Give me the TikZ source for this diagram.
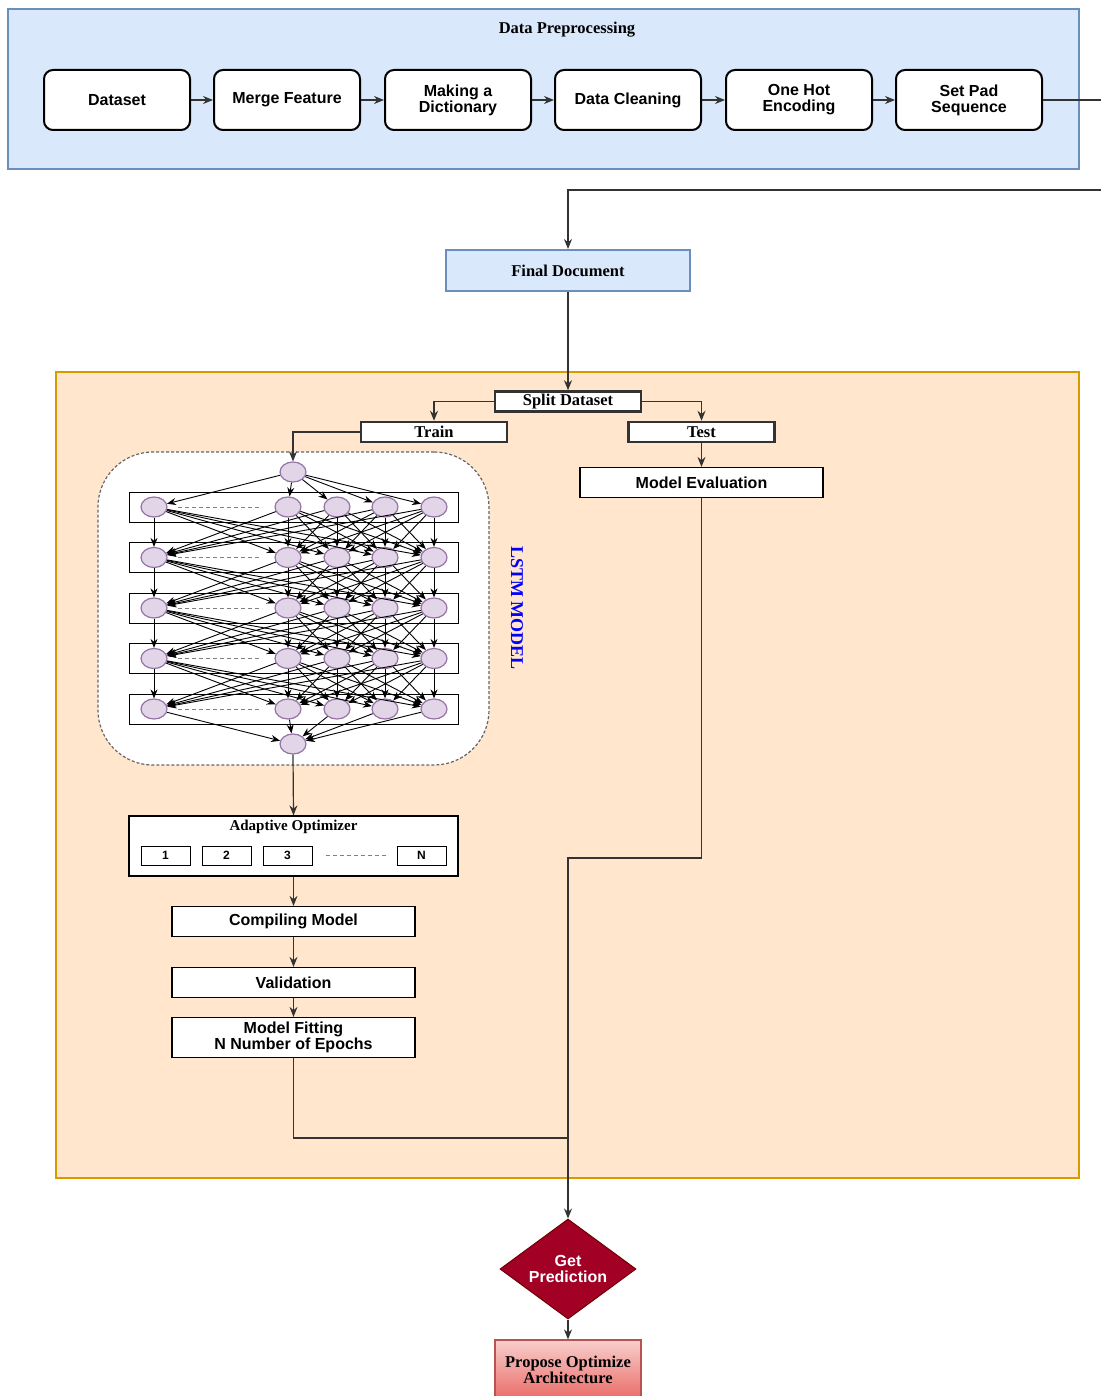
\documentclass[tikz,border=0pt]{standalone}
\usepackage{fontspec}
\setmainfont{Liberation Serif}
\newfontfamily\arialf{Liberation Sans}
\usetikzlibrary{shapes.geometric,arrows.meta}

\definecolor{bluefill}{HTML}{DAE8FC}
\definecolor{blueline}{HTML}{6C8EBF}
\definecolor{orangefill}{HTML}{FFE6CC}
\definecolor{orangeline}{HTML}{D79B00}
\definecolor{purplefill}{HTML}{E1D5E7}
\definecolor{purpleline}{HTML}{9673A6}
\definecolor{redfill}{HTML}{A20025}
\definecolor{redline}{HTML}{6F0000}
\definecolor{pinktop}{HTML}{F8CECC}
\definecolor{pinkbot}{HTML}{EA6B66}
\definecolor{pinkline}{HTML}{B85450}
\definecolor{linecol}{HTML}{333333}

\newcommand\sfbold{\fontsize{16}{16}\selectfont\arialf\bfseries}
\newcommand\rmbold{\fontsize{16.5}{16}\selectfont\rmfamily\bfseries}

\tikzset{
  prepstep/.style={draw=black, line width=2pt, rounded corners=9pt, fill=white,
    minimum width=146pt, minimum height=60pt, inner sep=0pt, align=center, font=\sfbold},
  splitbox/.style={draw=linecol, line width=2.5pt, fill=white, minimum width=146pt,
    minimum height=20pt, inner sep=0pt, font=\rmbold},
  plainbox/.style={draw=black, line width=1.2pt, fill=white, minimum width=243pt,
    minimum height=30pt, inner sep=0pt, align=center, font=\sfbold},
  layerbox/.style={draw=black, line width=1pt, fill=white, minimum width=329pt,
    minimum height=30pt, inner sep=0pt},
  neuron/.style={ellipse, draw=purpleline, line width=1.2pt, fill=purplefill,
    minimum width=26pt, minimum height=20pt, inner sep=0pt},
  optbox/.style={draw=black, line width=1pt, fill=white, minimum width=49pt,
    minimum height=19pt, inner sep=0pt, font=\fontsize{12}{12}\selectfont\arialf\bfseries},
  flow/.style={draw=linecol, line width=1.2pt, -{Stealth[length=10pt,width=8pt]}},
  link/.style={draw=linecol, line width=1.2pt},
  nnarrow/.style={draw=black, line width=0.9pt, -{Stealth[length=9pt,width=7pt]}},
  dots/.style={draw=gray, line width=1pt, dash pattern=on 4pt off 3pt},
}

\begin{document}
\begin{tikzpicture}[x=1pt,y=-1pt]
\useasboundingbox (0,0) rectangle (1100,1396);

% ---------- preprocessing stage ----------
\node[draw=blueline, fill=bluefill, line width=2pt, minimum width=1071pt,
      minimum height=160pt, inner sep=0pt] (prep) at (543.5,89) {};
\node[font=\rmbold] (preptitle) at (567,30) {Data Preprocessing};

\node[prepstep] (ds)    at (117,100) {Dataset};
\node[prepstep] (merge) at (287,100) {Merge Feature};
\node[prepstep] (dict)  at (458,100) {Making a\\Dictionary};
\node[prepstep] (clean) at (628,100) {Data Cleaning};
\node[prepstep] (onehot) at (799,100) {One Hot\\Encoding};
\node[prepstep] (pad)   at (969,100) {Set Pad\\Sequence};

\draw[flow] (ds) -- (merge);
\draw[flow] (merge) -- (dict);
\draw[flow] (dict) -- (clean);
\draw[flow] (clean) -- (onehot);
\draw[flow] (onehot) -- (pad);

% ---------- final document ----------
\node[draw=blueline, fill=bluefill, line width=2pt, minimum width=244pt,
      minimum height=41pt, inner sep=0pt, font=\rmbold] (fd) at (568,270.5) {Final Document};

\coordinate (offright) at (1108,100);
\coordinate (turn) at (568,190);
\draw[flow] (pad.east) -- (offright) |- (turn) -- (fd.north);

% ---------- model stage ----------
\node[draw=orangeline, fill=orangefill, line width=2pt, minimum width=1023pt,
      minimum height=806pt, inner sep=0pt] (model) at (567.5,775) {};

\node[splitbox] (split) at (568,401.5) {Split Dataset};
\node[splitbox] (train) at (434,432) {Train};
\node[splitbox] (test)  at (701.5,432) {Test};
\node[plainbox] (eval)  at (701.5,482.5) {Model Evaluation};

\draw[flow] (fd.south) -- (split.north);
\draw[flow] (split.west) -| (train.north);
\draw[flow] (split.east) -| (test.north);
\draw[flow] (test.south) -- (eval.north);

% LSTM network
\node[draw=gray!80!black, dash pattern=on 3pt off 2pt, line width=1.2pt, fill=white,
      rounded corners=55pt, minimum width=391pt, minimum height=313pt, inner sep=0pt]
      (lstmframe) at (293.5,608.5) {};
\node[rotate=-90, text=blue, font=\fontsize{18}{18}\selectfont\rmfamily\bfseries]
      (lstmlabel) at (517,608) {LSTM MODEL};

\foreach \r/\y in {1/507,2/557.5,3/608,4/658.5,5/709}{
  \node[layerbox] (L\r) at (293.5,\y) {};
  \draw[dots] (178,\y) -- (262,\y);
  \foreach \c/\x in {1/154,2/288,3/337,4/385,5/434}{
    \node[neuron] (n\r\c) at (\x,\y) {};
  }
}
\node[neuron] (nin)  at (293,472) {};
\node[neuron] (nout) at (293,744) {};

\draw[flow] (train.west) -| (nin.north);

\foreach \b in {1,...,5}{
  \draw[nnarrow] (nin) -- (n1\b);
  \draw[nnarrow] (n5\b) -- (nout);
}
\foreach \r/\s in {1/2,2/3,3/4,4/5}{
  \foreach \a in {1,...,5}{
    \foreach \b in {1,...,5}{
      \draw[nnarrow] (n\r\a) -- (n\s\b);
    }
  }
}

% optimizer and training steps
\node[draw=black, line width=1.2pt, fill=white, minimum width=329pt,
      minimum height=60pt, inner sep=0pt] (opt) at (293.5,846) {};
\node[font=\fontsize{15}{15}\selectfont\rmfamily\bfseries] (opttitle) at (293.5,827) {Adaptive Optimizer};
\node[optbox] (o1) at (165.5,855.5) {1};
\node[optbox] (o2) at (226.5,855.5) {2};
\node[optbox] (o3) at (287.5,855.5) {3};
\node[optbox] (oN) at (421.5,855.5) {N};
\draw[dots] (o3.east) ++(13,0) -- ++(61,0);

\node[plainbox] (compile) at (293.5,921.5) {Compiling Model};
\node[plainbox] (valid)   at (293.5,982.5) {Validation};
\node[plainbox, minimum height=40pt] (fit) at (293.5,1037.5) {Model Fitting\\N Number of Epochs};

\draw[flow] (nout.south) -- (opt.north);
\draw[flow] (opt.south) -- (compile.north);
\draw[flow] (compile.south) -- (valid.north);
\draw[flow] (valid.south) -- (fit.north);

% prediction
\node[diamond, aspect=1.36, draw=redline, fill=redfill, line width=1pt,
      minimum width=136pt, minimum height=100pt, inner sep=0pt, align=center,
      text=white, font=\sfbold] (pred) at (568,1269) {Get\\Prediction};
\node[draw=pinkline, line width=1.2pt, top color=pinktop, bottom color=pinkbot,
      minimum width=146pt, minimum height=60pt, inner sep=0pt, align=center,
      font=\rmbold] (propose) at (568,1370) {Propose Optimize\\Architecture};

\coordinate (evalturn) at (701.5,858);
\coordinate (join) at (568,1138);
\draw[flow] (eval.south) -- (evalturn) -| (pred.north);
\draw[link] (fit.south) |- (join);
\draw[flow] (pred.south) -- (propose.north);

\end{tikzpicture}
\end{document}
